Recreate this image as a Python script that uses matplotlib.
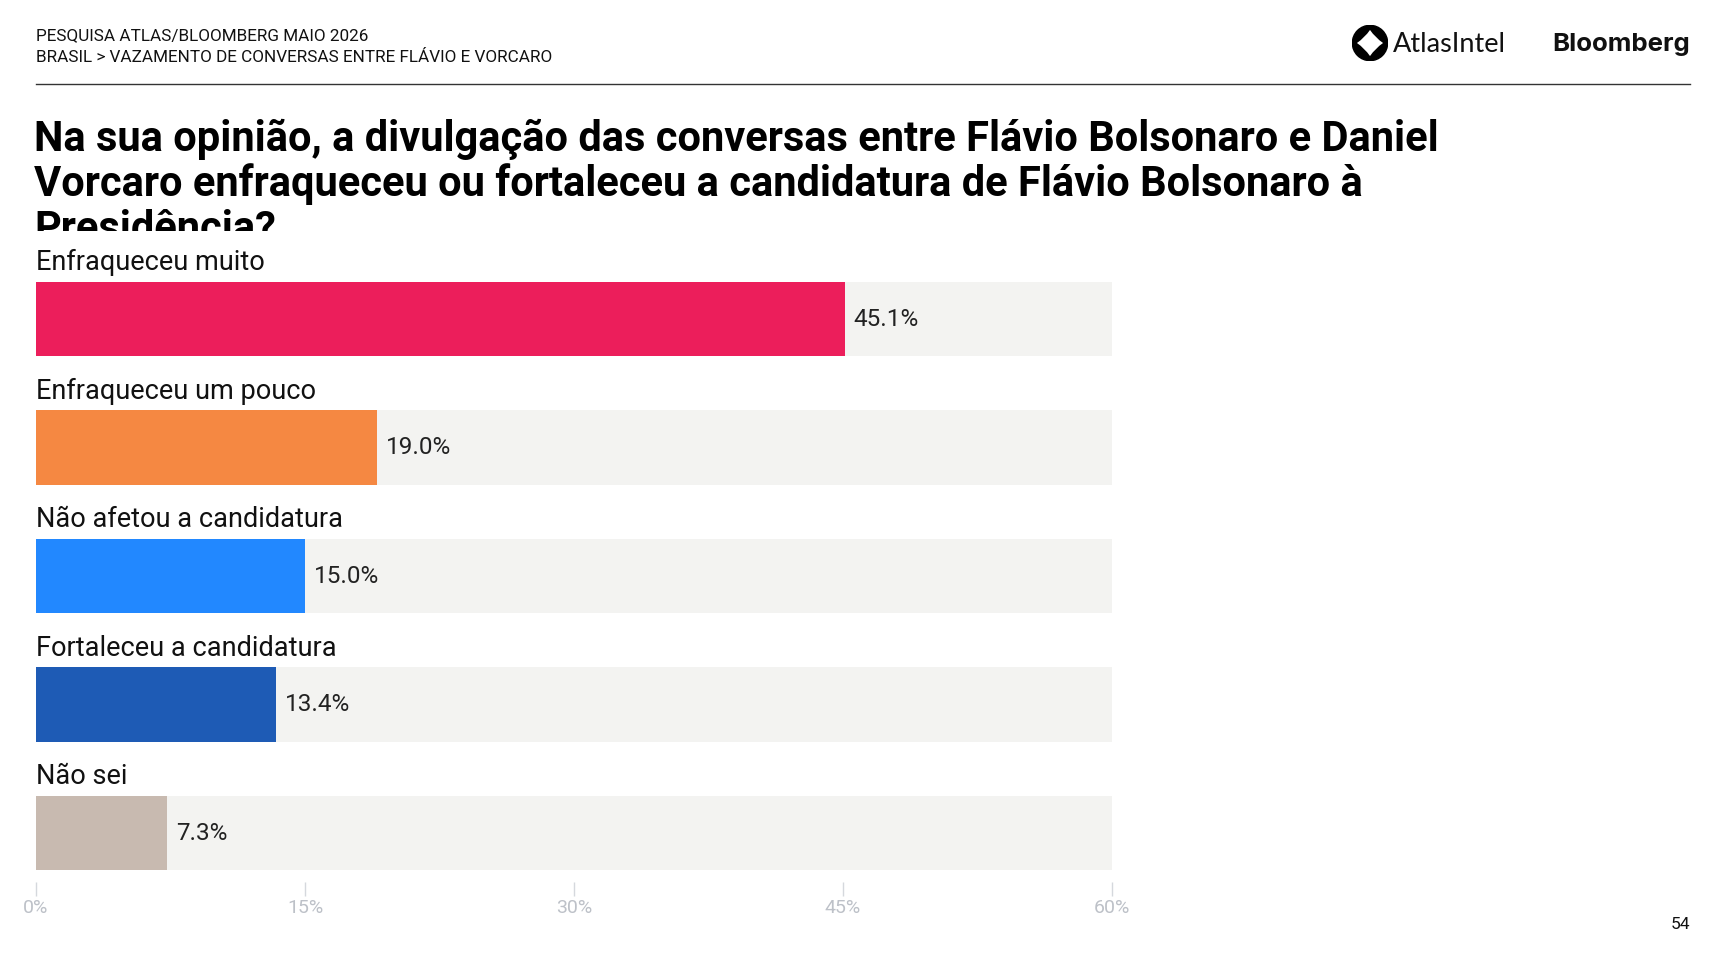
import matplotlib
matplotlib.use("Agg")
import matplotlib.pyplot as plt
from matplotlib import font_manager
from matplotlib.patches import Circle, PathPatch
from matplotlib.path import Path
from matplotlib.lines import Line2D
from matplotlib.transforms import Bbox
import numpy as np

# data
categories = ["Enfraqueceu muito", "Enfraqueceu um pouco", "Não afetou a candidatura",
              "Fortaleceu a candidatura", "Não sei"]
values = [45.1, 19.0, 15.0, 13.4, 7.3]
colors = ["#EC1E5B", "#F58842", "#2288FF", "#1E5BB5", "#C8BAB0"]
xticks = [0, 15, 30, 45, 60]
header = ["PESQUISA ATLAS/BLOOMBERG MAIO 2026",
          "BRASIL > VAZAMENTO DE CONVERSAS ENTRE FLÁVIO E VORCARO"]
title_lines = ["Na sua opinião, a divulgação das conversas entre Flávio Bolsonaro e Daniel",
               "Vorcaro enfraqueceu ou fortaleceu a candidatura de Flávio Bolsonaro à",
               "Presidência?"]
page = "54"

W, H = 1728, 972
names = {f.name for f in font_manager.fontManager.ttflist}
title_font = "Liberation Sans Narrow" if "Liberation Sans Narrow" in names else "Roboto"
body = "Roboto"

fig = plt.figure(figsize=(W / 100, H / 100), dpi=100)
fig.patch.set_facecolor("white")

def fx(px):
    return px / W

def fy(py):
    return 1 - py / H

# header
fig.text(fx(36), fy(36), header[0], fontsize=12.3, family=body, va="center", color="#111")
fig.text(fx(36), fy(58), header[1], fontsize=12.3, family=body, va="center", color="#111")
fig.add_artist(Line2D([fx(36), fx(1690)], [fy(84), fy(84)], color="#333", lw=1))

# logos
lax = fig.add_axes([fx(1352), fy(61), fx(36), 36 / H])
lax.set_xlim(-1.02, 1.02)
lax.set_ylim(-1.02, 1.02)
lax.set_aspect("equal")
lax.axis("off")
lax.add_patch(Circle((0, 0), 1, color="black"))
r, c = 0.74, 0.3
verts = [(0, r), (c, c), (r, 0), (c, -c), (0, -r), (-c, -c), (-r, 0), (-c, c), (0, r)]
codes = [Path.MOVETO] + [Path.CURVE3] * 8
lax.add_patch(PathPatch(Path(verts, codes), color="white", lw=0))
fig.text(fx(1393), fy(45), "AtlasIntel", fontsize=19.5, family="Lato", va="center", color="#111")
fig.text(fx(1690), fy(45), "Bloomberg", fontsize=18.6, family="Inter", weight="bold",
         va="center", ha="right", color="#111")

# title
baselines = [151, 196, 241]
for line, b in zip(title_lines, baselines):
    t = fig.text(fx(34), fy(b), line, fontsize=30, family=title_font, weight="bold",
                 va="baseline", color="black")
    t.set_clip_box(Bbox([[0, H - 231], [W, H]]))
    t.set_clip_on(True)

# chart
ax = fig.add_axes([fx(36), fy(882), fx(1112) - fx(36), fy(240) - fy(882)])
y = np.arange(len(categories))
ax.barh(y, [xticks[-1]] * len(y), height=0.58, color="#F3F3F1", zorder=1)
ax.barh(y, values, height=0.58, color=colors, zorder=2)
for yi, cat, v in zip(y, categories, values):
    ax.text(0, yi - 0.44, cat, fontsize=19.5, family=body, va="center", ha="left", color="#111")
    ax.annotate(f"{v:.1f}%", (v, yi), xytext=(9, 0), textcoords="offset pixels",
                fontsize=17.5, family=body, va="center", ha="left", color="#222")
ax.set_xlim(0, xticks[-1])
ax.set_ylim(4.38, -0.615)
ax.set_xticks(xticks)
ax.set_xticklabels([f"{t}%" for t in xticks], family=body, fontsize=14, color="#BDC1C8")
ax.tick_params(axis="x", length=10, color="#D5D8DD", width=1, pad=2)
ax.set_yticks([])
for s in ax.spines.values():
    s.set_visible(False)

fig.text(fx(1690), fy(924), page, fontsize=12.5, family=body, ha="right", va="center", color="#111")

fig.savefig("out.png", dpi=100)
